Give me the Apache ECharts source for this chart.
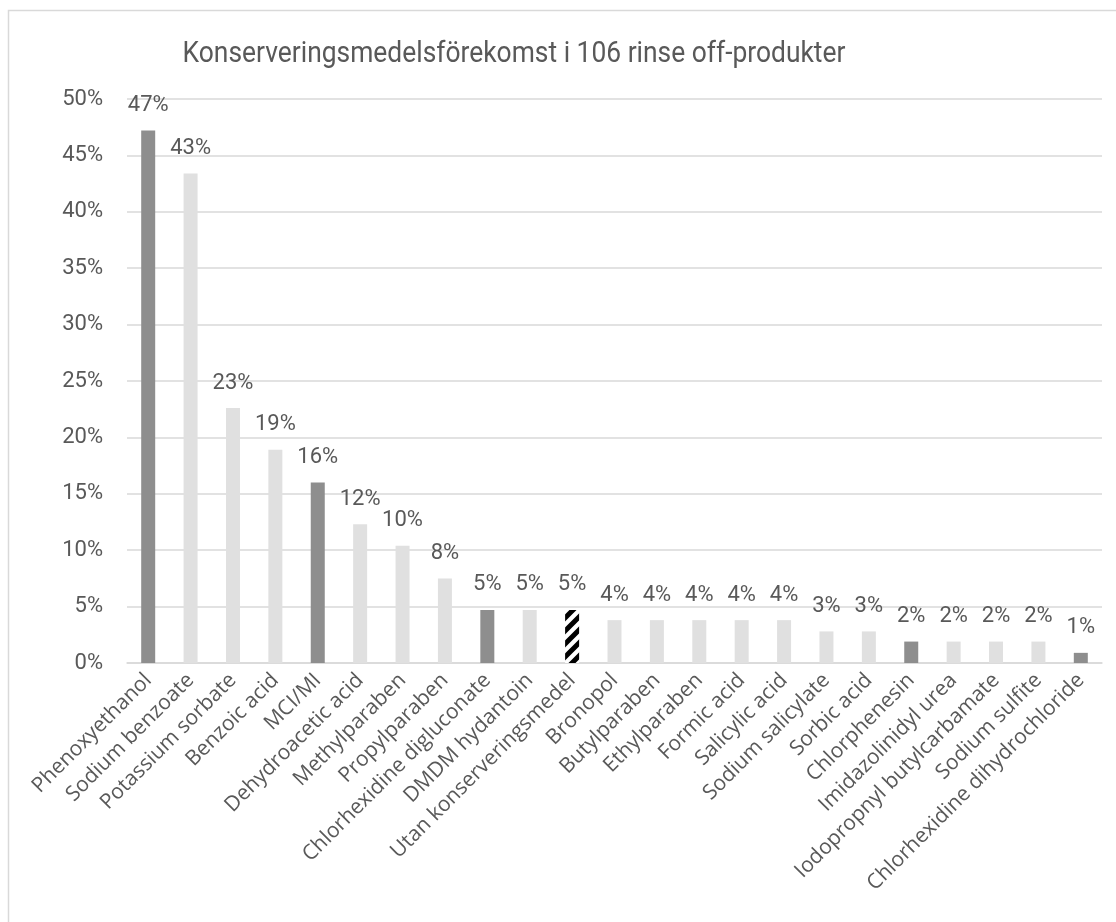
<!DOCTYPE html>
<html>
<head>
<meta charset="utf-8">
<script src="https://cdn.jsdelivr.net/npm/echarts@6/dist/echarts.min.js"></script>
<style>
html,body{margin:0;padding:0;background:#fff;}
#chart{width:1116px;height:922px;}
</style>
</head>
<body>
<div id="chart"></div>
<script>
const titleText = 'Konserveringsmedelsförekomst i 106 rinse off-produkter';
const categories = ['Phenoxyethanol','Sodium benzoate','Potassium sorbate','Benzoic acid','MCI/MI','Dehydroacetic acid','Methylparaben','Propylparaben','Chlorhexidine digluconate','DMDM hydantoin','Utan konserveringsmedel','Bronopol','Butylparaben','Ethylparaben','Formic acid','Salicylic acid','Sodium salicylate','Sorbic acid','Chlorphenesin','Imidazolinidyl urea','Iodopropnyl butylcarbamate','Sodium sulfite','Chlorhexidine dihydrochloride'];
const values = [47.2,43.4,22.6,18.9,16.0,12.3,10.4,7.5,4.7,4.7,4.7,3.8,3.8,3.8,3.8,3.8,2.8,2.8,1.9,1.9,1.9,1.9,0.9];
const darkItems = ['Phenoxyethanol','MCI/MI','Chlorhexidine digluconate','Chlorphenesin','Chlorhexidine dihydrochloride'];
const patternItems = ['Utan konserveringsmedel'];
const yTicks = [0,5,10,15,20,25,30,35,40,45,50];

function makePattern(){
  const s = 13;
  const c = document.createElement('canvas');
  c.width = s; c.height = s;
  const g = c.getContext('2d');
  g.fillStyle = '#ffffff'; g.fillRect(0,0,s,s);
  g.strokeStyle = '#000000'; g.lineWidth = 5;
  g.beginPath();
  g.moveTo(-2, s+2); g.lineTo(s+2, -2);
  g.moveTo(-s/2-2, s/2+2); g.lineTo(s/2+2, -s/2-2);
  g.moveTo(s/2-2, s+s/2+2); g.lineTo(s+s/2+2, s/2-2);
  g.stroke();
  return c;
}
const pattern = {image: makePattern(), repeat: 'repeat'};

const NARROW = "Roboto, sans-serif";
const TXT = '#595959';

const data = values.map((v,i)=>{
  const name = categories[i];
  let color = '#e0e0e0';
  if (darkItems.includes(name)) color = '#8e8e8e';
  if (patternItems.includes(name)) color = pattern;
  return {value: v, itemStyle: {color: color}};
});

const chart = echarts.init(document.getElementById('chart'), null, {renderer:'canvas'});
chart.setOption({
  animation: false,
  backgroundColor: '#ffffff',
  graphic: [
    {type:'rect', shape:{x:8.5, y:10.5, width:1200, height:1000}, style:{fill:'none', stroke:'#d9d9d9', lineWidth:1.5}, z:-10},
    {type:'text', x:514, y:54, scaleX:0.88, style:{text:titleText, font:"30px Roboto, sans-serif", fill:TXT, align:'center', verticalAlign:'middle'}}
  ],
  grid: {left:127, right:14, top:99, bottom:259, containLabel:false},
  xAxis: {
    type:'category', data: categories,
    axisLine:{show:true, lineStyle:{color:'#d9d9d9', width:1.5}},
    axisTick:{show:false},
    axisLabel:{rotate:45, interval:0, margin:14, color:TXT, fontFamily:"'Open Sans', sans-serif", fontSize:21}
  },
  yAxis: {
    type:'value', min:yTicks[0], max:yTicks[yTicks.length-1], interval:5,
    axisLine:{show:false}, axisTick:{show:false},
    splitLine:{lineStyle:{color:'#d9d9d9', width:1.5}},
    axisLabel:{formatter:'{value}%', color:TXT, fontFamily:NARROW, fontSize:22, margin:24}
  },
  series: [{
    type:'bar', data: data, barWidth:14,
    label:{show:true, position:'top', distance:14, color:TXT, fontFamily:NARROW, fontSize:22,
      formatter: p => Math.round(p.value) + '%'}
  }]
});
</script>
</body>
</html>
